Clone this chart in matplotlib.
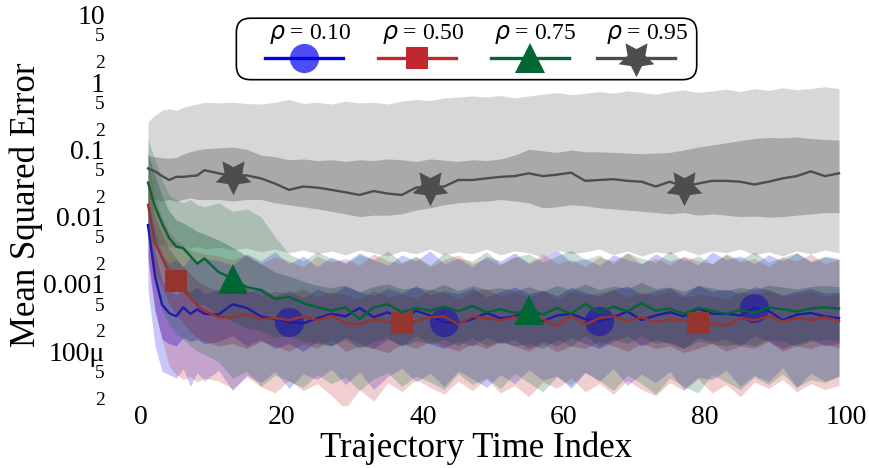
import matplotlib
matplotlib.use("Agg")
import matplotlib.pyplot as plt
from matplotlib.patches import FancyBboxPatch
from matplotlib.ticker import FixedLocator, FixedFormatter

plt.rcParams["font.family"] = ["Liberation Serif", "DejaVu Sans"]
plt.rcParams["mathtext.fontset"] = "dejavusans"

# trajectory time index (dense at the start, every other index afterwards)
t_index = [1, 2, 3, 4, 5, 6, 7, 8, 9,
           11, 13, 15, 17, 19, 21, 23, 25, 27,
           29, 31, 33, 35, 37, 39, 41, 43, 45,
           47, 49, 51, 53, 55, 57, 59, 61, 63,
           65, 67, 69, 71, 73, 75, 77, 79, 81,
           83, 85, 87, 89, 91, 93, 95, 97, 99]

# ---- rho = 0.10 ----
mse_010 = [7.5e-3, 1.3e-3, 4.9e-4, 3.7e-4, 3.3e-4, 4.5e-4, 3.6e-4, 4.2e-4, 3.6e-4,
           3.5e-4, 5.0e-4, 4.4e-4, 3.3e-4, 3.0e-4, 2.7e-4, 2.6e-4, 3.1e-4, 3.6e-4,
           3.3e-4, 4.4e-4, 3.2e-4, 3.8e-4, 3.0e-4, 4.0e-4, 3.4e-4, 2.7e-4, 2.6e-4,
           3.0e-4, 3.7e-4, 3.1e-4, 3.3e-4, 3.9e-4, 2.8e-4, 3.4e-4, 3.6e-4, 3.0e-4,
           2.8e-4, 3.2e-4, 3.9e-4, 2.9e-4, 3.4e-4, 3.8e-4, 3.3e-4, 4.3e-4, 3.6e-4,
           3.6e-4, 3.4e-4, 4.4e-4, 4.0e-4, 2.9e-4, 3.5e-4, 3.7e-4, 3.3e-4, 3.1e-4]
outer_hi_010 = [2.0e-2, 6.0e-3, 2.6e-3, 2.0e-3, 2.3e-3, 1.8e-3, 2.5e-3, 2.0e-3, 2.4e-3,
                2.2e-3, 1.9e-3, 2.8e-3, 2.2e-3, 3.0e-3, 2.0e-3, 2.6e-3, 1.8e-3, 2.5e-3,
                2.1e-3, 2.9e-3, 2.3e-3, 1.9e-3, 2.7e-3, 2.2e-3, 3.1e-3, 2.0e-3, 2.4e-3,
                1.8e-3, 2.6e-3, 2.2e-3, 2.9e-3, 2.0e-3, 2.5e-3, 3.2e-3, 2.1e-3, 2.4e-3,
                1.9e-3, 2.7e-3, 2.3e-3, 2.0e-3, 2.8e-3, 2.2e-3, 2.5e-3, 1.9e-3, 3.0e-3,
                2.3e-3, 2.6e-3, 2.0e-3, 2.7e-3, 2.2e-3, 2.9e-3, 2.1e-3, 2.5e-3, 2.3e-3]
inner_hi_010 = [1.3e-2, 3.0e-3, 1.1e-3, 8.0e-4, 7.0e-4, 8.5e-4, 7.8e-4, 9.0e-4, 7.2e-4,
                8.2e-4, 9.5e-4, 7.4e-4, 8.8e-4, 6.6e-4, 7.9e-4, 6.2e-4, 8.4e-4, 7.0e-4,
                9.2e-4, 7.6e-4, 6.8e-4, 8.6e-4, 7.3e-4, 9.4e-4, 6.9e-4, 8.0e-4, 7.1e-4,
                8.7e-4, 6.4e-4, 7.7e-4, 9.0e-4, 7.2e-4, 8.1e-4, 6.7e-4, 8.9e-4, 7.5e-4,
                6.6e-4, 8.3e-4, 9.3e-4, 7.0e-4, 7.9e-4, 8.8e-4, 6.8e-4, 9.6e-4, 7.7e-4,
                8.4e-4, 7.1e-4, 9.1e-4, 8.2e-4, 6.9e-4, 7.8e-4, 8.6e-4, 7.3e-4, 7.6e-4]
inner_lo_010 = [2.5e-3, 4.0e-4, 1.5e-4, 1.3e-4, 1.2e-4, 1.6e-4, 1.4e-4, 1.5e-4, 1.3e-4,
                1.4e-4, 1.7e-4, 1.2e-4, 1.5e-4, 1.1e-4, 1.3e-4, 1.0e-4, 1.4e-4, 1.2e-4,
                1.6e-4, 1.3e-4, 1.1e-4, 1.5e-4, 1.2e-4, 1.7e-4, 1.3e-4, 1.1e-4, 1.4e-4,
                1.2e-4, 1.6e-4, 1.3e-4, 1.5e-4, 1.1e-4, 1.4e-4, 1.2e-4, 1.6e-4, 1.3e-4,
                1.1e-4, 1.4e-4, 1.7e-4, 1.2e-4, 1.5e-4, 1.3e-4, 1.1e-4, 1.6e-4, 1.4e-4,
                1.5e-4, 1.2e-4, 1.7e-4, 1.4e-4, 1.1e-4, 1.3e-4, 1.5e-4, 1.2e-4, 1.3e-4]
outer_lo_010 = [8.0e-4, 1.2e-4, 5.0e-5, 4.5e-5, 4.0e-5, 5.5e-5, 3.0e-5, 4.8e-5, 3.6e-5,
                5.2e-5, 2.6e-5, 4.4e-5, 3.4e-5, 5.0e-5, 2.8e-5, 4.6e-5, 3.8e-5, 5.4e-5,
                3.2e-5, 4.9e-5, 2.7e-5, 4.2e-5, 5.6e-5, 3.5e-5, 4.7e-5, 3.0e-5, 5.1e-5,
                3.9e-5, 2.9e-5, 4.5e-5, 3.3e-5, 5.3e-5, 3.7e-5, 4.3e-5, 2.8e-5, 4.8e-5,
                3.6e-5, 5.5e-5, 3.1e-5, 4.6e-5, 3.4e-5, 5.0e-5, 2.7e-5, 4.1e-5, 3.8e-5,
                5.2e-5, 3.0e-5, 4.4e-5, 3.5e-5, 5.7e-5, 2.9e-5, 4.7e-5, 3.6e-5, 4.2e-5]

# ---- rho = 0.50 ----
mse_050 = [1.5e-2, 4.0e-3, 2.5e-3, 1.5e-3, 1.1e-3, 8.0e-4, 6.3e-4, 4.8e-4, 4.0e-4,
           3.2e-4, 3.2e-4, 3.5e-4, 3.0e-4, 3.1e-4, 2.9e-4, 3.3e-4, 2.9e-4, 3.4e-4,
           2.6e-4, 2.5e-4, 3.0e-4, 2.7e-4, 2.6e-4, 2.8e-4, 3.2e-4, 3.3e-4, 2.5e-4,
           3.3e-4, 3.1e-4, 2.9e-4, 3.2e-4, 2.9e-4, 3.0e-4, 2.4e-4, 3.4e-4, 2.5e-4,
           3.1e-4, 3.3e-4, 2.8e-4, 3.2e-4, 2.7e-4, 3.0e-4, 2.9e-4, 2.6e-4, 2.6e-4,
           2.4e-4, 3.1e-4, 2.9e-4, 3.3e-4, 2.8e-4, 3.1e-4, 2.9e-4, 3.2e-4, 2.8e-4]
outer_hi_050 = [6.0e-2, 2.0e-2, 1.0e-2, 6.0e-3, 4.5e-3, 3.8e-3, 3.2e-3, 3.0e-3, 2.8e-3,
                2.6e-3, 2.3e-3, 2.7e-3, 2.0e-3, 2.5e-3, 2.2e-3, 1.8e-3, 2.6e-3, 2.1e-3,
                2.4e-3, 1.9e-3, 2.8e-3, 2.2e-3, 2.0e-3, 2.5e-3, 1.8e-3, 2.3e-3, 2.7e-3,
                2.0e-3, 2.4e-3, 1.9e-3, 2.6e-3, 2.1e-3, 2.8e-3, 2.0e-3, 2.3e-3, 1.8e-3,
                2.5e-3, 2.2e-3, 2.9e-3, 2.0e-3, 2.4e-3, 1.9e-3, 2.6e-3, 2.2e-3, 2.0e-3,
                2.7e-3, 2.1e-3, 2.4e-3, 1.8e-3, 2.5e-3, 2.2e-3, 2.8e-3, 2.0e-3, 2.3e-3]
inner_hi_050 = [3.5e-2, 1.0e-2, 5.5e-3, 3.3e-3, 2.4e-3, 1.8e-3, 1.4e-3, 1.1e-3, 9.5e-4,
                8.0e-4, 7.0e-4, 8.9e-4, 6.6e-4, 7.8e-4, 7.2e-4, 8.5e-4, 6.4e-4, 7.7e-4,
                6.8e-4, 6.0e-4, 7.9e-4, 6.5e-4, 7.1e-4, 6.2e-4, 8.3e-4, 7.4e-4, 6.1e-4,
                7.7e-4, 8.4e-4, 6.6e-4, 7.5e-4, 6.3e-4, 8.0e-4, 5.8e-4, 7.6e-4, 6.9e-4,
                7.3e-4, 8.2e-4, 6.4e-4, 7.5e-4, 6.7e-4, 7.9e-4, 6.2e-4, 7.0e-4, 6.5e-4,
                6.0e-4, 7.8e-4, 6.8e-4, 8.1e-4, 6.4e-4, 7.2e-4, 7.7e-4, 6.6e-4, 7.1e-4]
inner_lo_050 = [6.0e-3, 1.5e-3, 9.0e-4, 5.0e-4, 3.5e-4, 2.6e-4, 2.0e-4, 1.6e-4, 1.4e-4,
                1.2e-4, 1.3e-4, 1.1e-4, 1.4e-4, 1.2e-4, 1.0e-4, 1.3e-4, 1.1e-4, 1.5e-4,
                1.0e-4, 1.2e-4, 1.1e-4, 9.5e-5, 1.3e-4, 1.1e-4, 1.4e-4, 1.2e-4, 1.0e-4,
                1.3e-4, 1.1e-4, 1.4e-4, 1.2e-4, 1.0e-4, 1.3e-4, 9.8e-5, 1.2e-4, 1.1e-4,
                1.4e-4, 1.2e-4, 1.0e-4, 1.3e-4, 1.1e-4, 1.2e-4, 9.6e-5, 1.1e-4, 1.3e-4,
                1.0e-4, 1.2e-4, 1.1e-4, 1.4e-4, 1.0e-4, 1.2e-4, 1.1e-4, 1.3e-4, 1.1e-4]
outer_lo_050 = [2.0e-3, 4.0e-4, 1.5e-4, 6.0e-5, 4.5e-5, 3.8e-5, 4.2e-5, 3.5e-5, 4.0e-5,
                3.6e-5, 2.8e-5, 4.1e-5, 3.0e-5, 2.4e-5, 3.7e-5, 2.6e-5, 3.3e-5, 2.2e-5,
                1.4e-5, 2.7e-5, 1.8e-5, 3.4e-5, 2.5e-5, 3.8e-5, 2.9e-5, 2.3e-5, 3.6e-5,
                2.6e-5, 3.9e-5, 2.4e-5, 3.1e-5, 2.1e-5, 3.5e-5, 2.8e-5, 4.0e-5, 2.5e-5,
                3.3e-5, 2.3e-5, 3.7e-5, 2.7e-5, 2.2e-5, 3.4e-5, 2.6e-5, 3.9e-5, 2.4e-5,
                3.2e-5, 2.1e-5, 3.5e-5, 2.8e-5, 3.8e-5, 2.5e-5, 3.3e-5, 2.7e-5, 3.1e-5]

# ---- rho = 0.75 ----
mse_075 = [3.2e-2, 1.4e-2, 7.9e-3, 4.8e-3, 3.6e-3, 3.4e-3, 2.6e-3, 2.0e-3, 2.4e-3,
           1.5e-3, 1.2e-3, 9.0e-4, 8.1e-4, 6.0e-4, 6.4e-4, 5.2e-4, 4.5e-4, 4.0e-4,
           4.5e-4, 3.0e-4, 4.5e-4, 5.0e-4, 3.8e-4, 4.4e-4, 4.0e-4, 4.6e-4, 3.9e-4,
           4.7e-4, 3.8e-4, 4.2e-4, 3.7e-4, 4.1e-4, 3.5e-4, 4.4e-4, 3.6e-4, 5.0e-4,
           3.8e-4, 4.6e-4, 3.9e-4, 5.2e-4, 4.0e-4, 4.3e-4, 3.6e-4, 4.4e-4, 4.0e-4,
           3.6e-4, 4.1e-4, 3.7e-4, 4.5e-4, 4.2e-4, 3.9e-4, 4.3e-4, 4.5e-4, 4.3e-4]
outer_hi_075 = [1.4e-1, 7.0e-2, 3.5e-2, 2.1e-2, 1.8e-2, 1.6e-2, 1.8e-2, 1.5e-2, 1.4e-2,
                1.6e-2, 1.2e-2, 1.3e-2, 1.0e-2, 5.0e-3, 2.8e-3, 2.2e-3, 3.0e-3, 2.4e-3,
                2.0e-3, 2.7e-3, 2.3e-3, 3.1e-3, 2.1e-3, 2.6e-3, 1.9e-3, 2.9e-3, 2.4e-3,
                2.2e-3, 3.0e-3, 2.0e-3, 2.5e-3, 2.8e-3, 2.1e-3, 2.6e-3, 3.2e-3, 2.3e-3,
                2.7e-3, 2.0e-3, 2.9e-3, 2.4e-3, 2.1e-3, 3.1e-3, 2.2e-3, 2.6e-3, 2.0e-3,
                2.8e-3, 2.3e-3, 3.0e-3, 2.1e-3, 2.5e-3, 2.9e-3, 2.2e-3, 2.6e-3, 2.4e-3]
inner_hi_075 = [9.0e-2, 4.0e-2, 2.0e-2, 1.2e-2, 9.0e-3, 8.0e-3, 7.0e-3, 6.0e-3, 5.5e-3,
                4.5e-3, 3.5e-3, 2.6e-3, 2.0e-3, 1.5e-3, 1.3e-3, 1.1e-3, 9.5e-4, 8.8e-4,
                9.6e-4, 7.6e-4, 9.2e-4, 1.0e-3, 8.4e-4, 9.0e-4, 8.2e-4, 9.8e-4, 8.0e-4,
                9.4e-4, 8.3e-4, 8.8e-4, 7.9e-4, 9.1e-4, 7.7e-4, 9.5e-4, 8.1e-4, 1.0e-3,
                8.2e-4, 9.3e-4, 8.6e-4, 1.05e-3, 8.5e-4, 9.0e-4, 7.8e-4, 9.4e-4, 8.7e-4,
                7.9e-4, 8.9e-4, 8.1e-4, 9.6e-4, 9.0e-4, 8.4e-4, 9.2e-4, 9.5e-4, 9.1e-4]
inner_lo_075 = [1.2e-2, 4.0e-3, 2.0e-3, 1.2e-3, 9.0e-4, 8.0e-4, 6.0e-4, 5.0e-4, 5.0e-4,
                3.5e-4, 2.8e-4, 2.2e-4, 2.0e-4, 1.6e-4, 1.7e-4, 1.4e-4, 1.3e-4, 1.2e-4,
                1.5e-4, 1.1e-4, 1.4e-4, 1.6e-4, 1.2e-4, 1.4e-4, 1.3e-4, 1.5e-4, 1.2e-4,
                1.6e-4, 1.2e-4, 1.4e-4, 1.2e-4, 1.3e-4, 1.1e-4, 1.5e-4, 1.2e-4, 1.7e-4,
                1.2e-4, 1.5e-4, 1.3e-4, 1.7e-4, 1.3e-4, 1.4e-4, 1.1e-4, 1.4e-4, 1.3e-4,
                1.2e-4, 1.3e-4, 1.2e-4, 1.5e-4, 1.4e-4, 1.2e-4, 1.4e-4, 1.5e-4, 1.4e-4]
outer_lo_075 = [5.0e-3, 1.0e-3, 4.0e-4, 2.5e-4, 1.8e-4, 1.5e-4, 1.2e-4, 1.0e-4, 9.0e-5,
                7.0e-5, 4.0e-5, 5.0e-5, 3.0e-5, 4.4e-5, 3.6e-5, 2.9e-5, 4.5e-5, 3.3e-5,
                4.1e-5, 2.6e-5, 3.9e-5, 4.8e-5, 3.0e-5, 4.3e-5, 3.5e-5, 2.7e-5, 4.6e-5,
                3.2e-5, 4.0e-5, 2.8e-5, 4.7e-5, 3.4e-5, 2.5e-5, 4.2e-5, 3.1e-5, 4.9e-5,
                3.7e-5, 2.6e-5, 4.4e-5, 3.3e-5, 2.3e-5, 4.0e-5, 3.0e-5, 2.4e-5, 4.5e-5,
                3.5e-5, 2.7e-5, 4.1e-5, 3.2e-5, 4.6e-5, 2.9e-5, 3.8e-5, 3.4e-5, 4.3e-5]

# ---- rho = 0.95 ----
mse_095 = [5.2e-2, 4.7e-2, 4.0e-2, 3.5e-2, 3.9e-2, 3.9e-2, 4.0e-2, 4.1e-2, 4.9e-2,
           4.4e-2, 4.0e-2, 4.1e-2, 3.7e-2, 3.1e-2, 2.5e-2, 2.8e-2, 2.7e-2, 2.5e-2,
           2.3e-2, 2.1e-2, 2.4e-2, 2.2e-2, 2.1e-2, 2.7e-2, 2.8e-2, 2.8e-2, 3.5e-2,
           3.5e-2, 3.7e-2, 3.9e-2, 4.0e-2, 4.4e-2, 4.0e-2, 4.2e-2, 4.5e-2, 3.4e-2,
           3.5e-2, 3.6e-2, 3.4e-2, 3.3e-2, 2.8e-2, 3.3e-2, 2.8e-2, 3.1e-2, 3.4e-2,
           3.4e-2, 3.3e-2, 3.0e-2, 3.3e-2, 3.7e-2, 4.0e-2, 4.7e-2, 4.0e-2, 4.4e-2]
outer_hi_095 = [0.26, 0.32, 0.38, 0.40, 0.38, 0.42, 0.45, 0.47, 0.50,
                0.49, 0.50, 0.48, 0.47, 0.50, 0.55, 0.48, 0.50, 0.47,
                0.52, 0.49, 0.50, 0.47, 0.52, 0.55, 0.53, 0.58, 0.60,
                0.62, 0.60, 0.63, 0.58, 0.62, 0.66, 0.70, 0.65, 0.68,
                0.72, 0.68, 0.74, 0.70, 0.66, 0.72, 0.76, 0.70, 0.74,
                0.78, 0.72, 0.80, 0.75, 0.82, 0.77, 0.80, 0.85, 0.80]
inner_hi_095 = [0.080, 0.078, 0.075, 0.074, 0.076, 0.085, 0.092, 0.098, 0.102,
                0.105, 0.108, 0.100, 0.082, 0.078, 0.070, 0.072, 0.068, 0.070,
                0.066, 0.070, 0.068, 0.072, 0.070, 0.066, 0.072, 0.069, 0.066,
                0.070, 0.068, 0.072, 0.082, 0.100, 0.095, 0.090, 0.098, 0.092,
                0.092, 0.090, 0.088, 0.086, 0.088, 0.090, 0.098, 0.108, 0.116,
                0.125, 0.135, 0.145, 0.150, 0.148, 0.152, 0.145, 0.140, 0.137]
inner_lo_095 = [0.018, 0.018, 0.017, 0.018, 0.017, 0.018, 0.019, 0.018, 0.018,
                0.018, 0.017, 0.018, 0.018, 0.016, 0.015, 0.014, 0.013, 0.012,
                0.011, 0.010, 0.0105, 0.0105, 0.011, 0.0125, 0.0135, 0.015, 0.016,
                0.0166, 0.017, 0.018, 0.017, 0.016, 0.0135, 0.014, 0.015, 0.0145,
                0.0135, 0.013, 0.0125, 0.012, 0.0115, 0.011, 0.0115, 0.0105, 0.0110,
                0.0105, 0.010, 0.0102, 0.0098, 0.0100, 0.0105, 0.0110, 0.0115, 0.0115]
outer_lo_095 = [0.0040, 0.0040, 0.0038, 0.0036, 0.0035, 0.0037, 0.0034, 0.0036, 0.0033,
                0.0035, 0.0032, 0.0034, 0.0030, 0.0033, 0.0029, 0.0032, 0.0028, 0.0031,
                0.0027, 0.0032, 0.0029, 0.0026, 0.0031, 0.0028, 0.0033, 0.0027, 0.0030,
                0.0028, 0.0033, 0.0027, 0.0031, 0.0029, 0.0025, 0.0032, 0.0028, 0.0030,
                0.0033, 0.0027, 0.0031, 0.0026, 0.0030, 0.0028, 0.0032, 0.0027, 0.0031,
                0.0029, 0.0033, 0.0027, 0.0030, 0.0026, 0.0031, 0.0028, 0.0032, 0.0029]

series_labels = [r"$\rho$ = 0.10", r"$\rho$ = 0.50", r"$\rho$ = 0.75", r"$\rho$ = 0.95"]
series = [
    (mse_010, inner_lo_010, inner_hi_010, outer_lo_010, outer_hi_010),
    (mse_050, inner_lo_050, inner_hi_050, outer_lo_050, outer_hi_050),
    (mse_075, inner_lo_075, inner_hi_075, outer_lo_075, outer_hi_075),
    (mse_095, inner_lo_095, inner_hi_095, outer_lo_095, outer_hi_095),
]
# which points carry a marker (index into t_index)
marker_idx = [[14, 25, 36, 47], [4, 22, 43], [10, 31], [10, 24, 42]]

colors = ["#0000ee", "#c1272d", "#006633", "#4d4d4d"]
markers = ["o", "s", "^", (5, 1, 180)]
msizes = [21, 16, 22, 27]
malpha = [0.7, 1.0, 1.0, 1.0]

major_vals = [1e-4, 1e-3, 1e-2, 1e-1, 1, 10]
major_labels = ["100\u03bc", "0.001", "0.01", "0.1", "1", "10"]
minor_vals = [2e-5, 5e-5, 2e-4, 5e-4, 2e-3, 5e-3, 2e-2, 5e-2, 0.2, 0.5, 2, 5]
minor_labels = ["2", "5"] * 6

fig = plt.figure(figsize=(8.7, 4.68), dpi=100)
ax = fig.add_axes([0.162, 0.135, 0.8105, 0.845])

# inner bands underneath; outer bands, lines and markers stacked per series
for i, (m, ilo, ihi, olo, ohi) in enumerate(series):
    c = colors[i]
    z = 2 + 3 * i
    ax.fill_between(t_index, ilo, ihi, color=c, alpha=0.33, linewidth=0, zorder=1 + 0.1 * i)
    ax.fill_between(t_index, olo, ohi, color=c, alpha=0.22, linewidth=0, zorder=z)
    ax.plot(t_index, m, color=c, linewidth=1.7, zorder=z + 1)
    mx = [t_index[k] for k in marker_idx[i]]
    my = [m[k] for k in marker_idx[i]]
    ax.plot(mx, my, linestyle="none", marker=markers[i], markersize=msizes[i],
            color=c, alpha=malpha[i], markeredgewidth=0, zorder=z + 2)

ax.set_yscale("log")
ax.set_ylim(1.6e-5, 12)
ax.set_xlim(0, 100)
ax.set_xticks([0, 20, 40, 60, 80, 100])
ax.yaxis.set_major_locator(FixedLocator(major_vals))
ax.yaxis.set_major_formatter(FixedFormatter(major_labels))
ax.yaxis.set_minor_locator(FixedLocator(minor_vals))
ax.yaxis.set_minor_formatter(FixedFormatter(minor_labels))
ax.tick_params(axis="y", which="major", length=0, pad=26, labelsize=20)
ax.tick_params(axis="y", which="minor", length=0, pad=26, labelsize=14)
ax.tick_params(axis="x", length=0, pad=0, labelsize=20)
for s in ax.spines.values():
    s.set_visible(False)

fig.text(0.03, 0.562, "Mean Squared Error", rotation=90, ha="center", va="center", fontsize=25)
fig.text(0.547, 0.043, "Trajectory Time Index", ha="center", va="center", fontsize=25)

# legend box with text above each handle
lax = fig.add_axes([0.269, 0.827, 0.5345, 0.1368])
lax.set_xlim(0, 1)
lax.set_ylim(0, 1)
lax.axis("off")
lax.add_patch(FancyBboxPatch((0.005, 0.02), 0.99, 0.96, boxstyle="round,pad=0,rounding_size=0.03",
                             mutation_aspect=7.3, facecolor="white", edgecolor="black",
                             linewidth=1.2, transform=lax.transAxes))
text_x = [0.163, 0.406, 0.647, 0.888]
line_x = [0.151, 0.394, 0.637, 0.865]
for i in range(4):
    lax.text(text_x[i], 0.74, series_labels[i], ha="center", va="center", fontsize=17)
    lax.plot([line_x[i] - 0.084, line_x[i] + 0.084], [0.36, 0.36], color=colors[i], linewidth=2.4)
    lax.plot([line_x[i]], [0.36], marker=markers[i], markersize=msizes[i], color=colors[i],
             alpha=malpha[i], markeredgewidth=0, linestyle="none")

fig.savefig("out.png", dpi=100)
